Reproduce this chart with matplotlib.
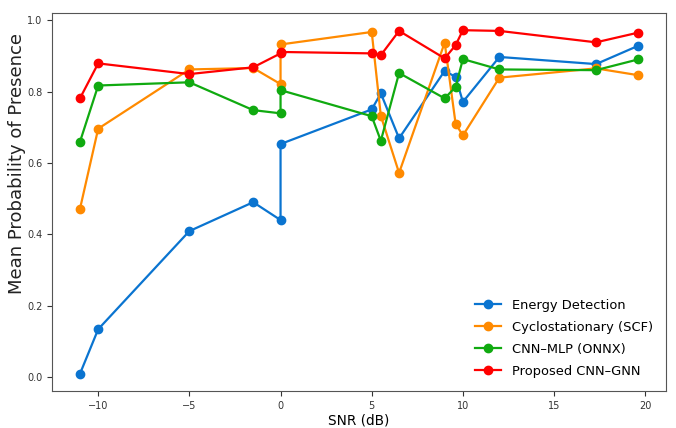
import matplotlib.pyplot as plt

snr = [-11, -10, -5, -1.5, 0, 0, 5, 5.5, 6.5, 9, 9.6, 10, 12, 17.3, 19.6]

energy = [0.009, 0.134, 0.409, 0.490, 0.440, 0.653, 0.750, 0.795, 0.669,
          0.858, 0.841, 0.771, 0.897, 0.877, 0.928]
cyclo = [0.471, 0.696, 0.862, 0.866, 0.821, 0.932, 0.967, 0.732, 0.572,
         0.937, 0.710, 0.677, 0.839, 0.865, 0.846]
cnn_mlp = [0.659, 0.817, 0.826, 0.748, 0.739, 0.804, 0.731, 0.662, 0.852,
           0.781, 0.813, 0.891, 0.862, 0.860, 0.890]
cnn_gnn = [0.781, 0.879, 0.849, 0.868, 0.907, 0.911, 0.907, 0.902, 0.970,
           0.893, 0.930, 0.972, 0.970, 0.938, 0.965]

labels = ["Energy Detection", "Cyclostationary (SCF)", "CNN\u2013MLP (ONNX)", "Proposed CNN\u2013GNN"]
colors = ["#0a74d0", "#ff8a00", "#10aa10", "#ff0000"]

fig = plt.figure(figsize=(6.76, 4.28), dpi=100)
ax = fig.add_axes([0.077, 0.0864, 0.908, 0.8832])

for ys, lab, c in zip([energy, cyclo, cnn_mlp, cnn_gnn], labels, colors):
    ax.plot(snr, ys, marker='o', markersize=6, linewidth=1.6, color=c, label=lab)

ax.set_xlabel("SNR (dB)", fontsize=9.8, labelpad=2)
ax.set_ylabel("Mean Probability of Presence", fontsize=13, color='#222222')
ax.yaxis.set_label_coords(-0.042, 0.603)
ax.tick_params(labelsize=7, colors='#333333')
for s in ax.spines.values():
    s.set_color('#555555')
ax.legend(loc='lower right', frameon=False, fontsize=9.4, labelspacing=0.69,
          borderaxespad=0.6)

fig.savefig("out.png", dpi=100)
plt.close(fig)
